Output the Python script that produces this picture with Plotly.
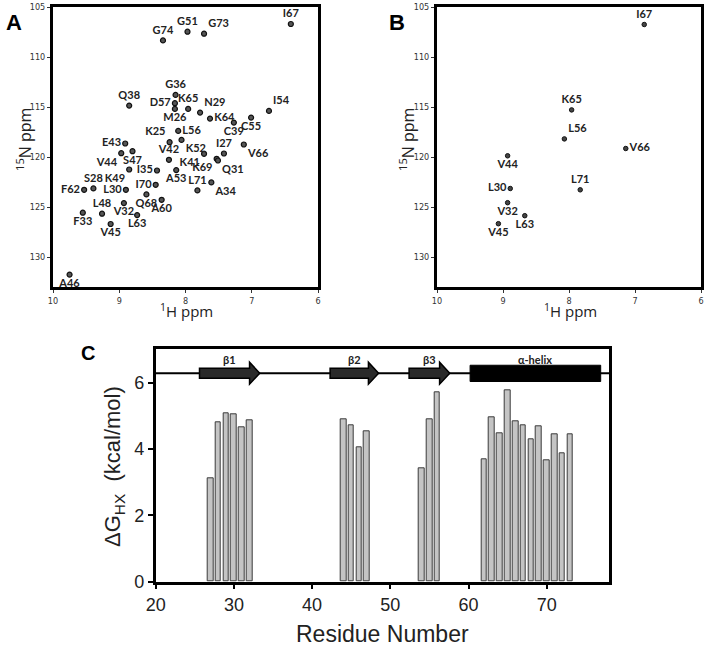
import plotly.graph_objects as go

W, H = 707, 650

# ---------------- Panel A: full HSQC ----------------
a_res = ["G74", "G51", "G73", "I67", "G36", "D57", "M26", "K65", "N29", "K64",
         "C39", "C55", "I54", "Q38", "L56", "K25", "K52", "E43", "S47", "V44",
         "V42", "I27", "V66", "K41", "K69", "Q31", "I35", "A53", "K49", "I70",
         "L71", "A34", "S28", "F62", "L30", "Q68", "L48", "V32", "A60", "F33",
         "L63", "V45", "A46"]
a_h = [8.34, 7.97, 7.72, 6.41, 8.15, 8.16, 8.16, 7.96, 7.78, 7.63,
       7.27, 7.01, 6.74, 8.85, 8.11, 8.24, 8.06, 8.91, 8.80, 8.97,
       8.25, 7.42, 7.12, 7.72, 7.53, 7.51, 8.43, 8.14, 8.85, 8.45,
       7.82, 7.61, 9.39, 9.53, 8.90, 8.59, 9.26, 8.93, 8.36, 9.55,
       8.73, 9.13, 9.75]
a_n = [108.34, 107.47, 107.67, 106.70, 113.79, 114.62, 115.19, 115.19, 115.56, 116.16,
       116.56, 116.06, 115.39, 114.86, 117.39, 118.52, 118.29, 118.65, 119.42, 119.62,
       120.28, 119.65, 118.75, 119.68, 120.18, 120.35, 121.35, 121.31, 121.25, 122.78,
       123.34, 122.54, 123.14, 123.28, 123.28, 123.74, 125.67, 124.61, 124.28, 125.57,
       125.81, 126.70, 131.76]
a_labelpos = ["top center", "top center", "top right", "top center", "top center",
              "middle left", "bottom center", "top center", "top right", "middle right",
              "bottom center", "bottom center", "top right", "top center", "middle right",
              "top left", "bottom right", "middle left", "bottom center", "bottom left",
              "top center", "top center", "bottom right", "bottom left", "bottom left",
              "bottom right", "middle left", "bottom center", "bottom left", "middle left",
              "top center", "bottom right", "top center", "middle left", "middle left",
              "bottom center", "top center", "bottom center", "bottom center", "bottom center",
              "bottom center", "bottom center", "bottom center"]

# ---------------- Panel B: protected peaks ----------------
b_res = ["K65", "L56", "V44", "L30", "V32", "L63", "V45", "L71", "V66", "I67"]
b_h = [7.96, 8.07, 8.93, 8.89, 8.93, 8.67, 9.07, 7.83, 7.14, 6.86]
b_n = [115.29, 118.19, 119.88, 123.15, 124.57, 125.87, 126.67, 123.28, 119.15, 106.75]
b_labelpos = ["top center", "top right", "bottom center", "middle left", "bottom center",
              "bottom center", "bottom center", "top center", "middle right", "top center"]

nmr_h_ticks = [10, 9, 8, 7, 6]
nmr_n_ticks = [105, 110, 115, 120, 125, 130]

# ---------------- Panel C: stability ----------------
c_residue = [27, 28, 29, 30, 31, 32, 44, 45, 46, 47, 54, 55, 56,
             62, 63, 64, 65, 66, 67, 68, 69, 70, 71, 72, 73]
c_dg = [3.10, 4.81, 5.08, 5.05, 4.64, 4.86, 4.90, 4.71, 4.05, 4.54, 3.42, 4.90, 5.71,
        3.69, 4.95, 4.46, 5.77, 4.83, 4.71, 4.30, 4.68, 3.66, 4.44, 3.88, 4.44]
c_x_ticks = [20, 30, 40, 50, 60, 70]
c_y_ticks = [0, 2, 4, 6]

ss_names = ["β1", "β2", "β3", "α-helix"]
ss_start = [25.6, 42.3, 52.4, 60.2]
ss_end = [33.3, 48.5, 57.6, 76.9]
ss_kind = ["strand", "strand", "strand", "helix"]
ss_level = 6.28


def px(x):
    return x / W


def py(y):
    return 1 - y / H


fig = go.Figure()

peak_font = dict(family="Lato, Open Sans, sans-serif", size=11, color="#222", weight="bold")

fig.add_trace(go.Scatter(
    x=a_h, y=a_n, text=a_res, mode="markers+text", textposition=a_labelpos,
    textfont=peak_font,
    marker=dict(size=5, color="#555", line=dict(color="#111", width=1.2), symbol="circle"),
    xaxis="x", yaxis="y", showlegend=False, cliponaxis=False))

fig.add_trace(go.Scatter(
    x=b_h, y=b_n, text=b_res, mode="markers+text", textposition=b_labelpos,
    textfont=peak_font,
    marker=dict(size=4.5, color="#444", line=dict(color="#111", width=1)),
    xaxis="x2", yaxis="y2", showlegend=False, cliponaxis=False))

fig.add_trace(go.Bar(
    x=c_residue, y=c_dg, width=0.72,
    marker=dict(color="#c4c4c4", line=dict(color="#3a3a3a", width=1)),
    xaxis="x3", yaxis="y3", showlegend=False))

nmr_tickfont = dict(family="Liberation Sans Narrow, DejaVu Sans Condensed, sans-serif", size=9, color="#333")
nmr_axis = dict(showline=True, linecolor="black", linewidth=3, mirror=True,
                ticks="outside", ticklen=3, tickcolor="#333", tickwidth=1, automargin=False,
                showgrid=False, zeroline=False, tickfont=nmr_tickfont)
c_axis = dict(showline=True, linecolor="black", linewidth=2.5, mirror=True,
              ticks="outside", ticklen=5, tickcolor="black", tickwidth=1.5, automargin=False,
              showgrid=False, zeroline=False,
              tickfont=dict(family="Liberation Sans, Arial, sans-serif", size=18, color="#222"))

fig.update_layout(
    template="none",
    width=W, height=H, margin=dict(l=0, r=0, t=0, b=0, pad=0), autosize=False,
    paper_bgcolor="white", plot_bgcolor="white",
    bargap=0,
    xaxis=dict(domain=[px(53), px(318)], range=[10, 6], tickvals=nmr_h_ticks,
               anchor="y", **nmr_axis),
    yaxis=dict(domain=[py(287), py(7)], range=[133, 105], tickvals=nmr_n_ticks,
               anchor="x", **nmr_axis),
    xaxis2=dict(domain=[px(437), px(701)], range=[10, 6], tickvals=nmr_h_ticks,
                anchor="y2", **nmr_axis),
    yaxis2=dict(domain=[py(287), py(7)], range=[133, 105], tickvals=nmr_n_ticks,
                anchor="x2", **nmr_axis),
    xaxis3=dict(domain=[px(155.7), px(609.3)], range=[20, 78], tickvals=c_x_ticks,
                anchor="y3", **c_axis),
    yaxis3=dict(domain=[py(581.7), py(349.3)], range=[0, 7], tickvals=c_y_ticks,
                anchor="x3", **c_axis),
)

# secondary-structure track
shapes = [dict(type="line", xref="x3", yref="y3", x0=20, x1=78, y0=ss_level, y1=ss_level,
               line=dict(color="black", width=2), layer="above")]
for name, s, e, kind in zip(ss_names, ss_start, ss_end, ss_kind):
    if kind == "strand":
        hs = e - 1.3
        b, hh = 0.15, 0.33
        path = (f"M {s},{ss_level - b} L {hs},{ss_level - b} L {hs},{ss_level - hh} "
                f"L {e},{ss_level} L {hs},{ss_level + hh} L {hs},{ss_level + b} "
                f"L {s},{ss_level + b} Z")
        shapes.append(dict(type="path", xref="x3", yref="y3", path=path,
                           fillcolor="#2a2a2a", line=dict(color="black", width=1.5), layer="above"))
    else:
        shapes.append(dict(type="rect", xref="x3", yref="y3", x0=s, x1=e,
                           y0=ss_level - 0.25, y1=ss_level + 0.24,
                           fillcolor="black", line=dict(color="black", width=1), layer="above"))
fig.update_layout(shapes=shapes)

annotations = []
for name, s, e in zip(ss_names, ss_start, ss_end):
    annotations.append(dict(xref="x3", yref="y3", x=(s + e) / 2, y=ss_level + 0.40,
                            text=name, showarrow=False, xanchor="center", yanchor="middle",
                            font=dict(family="Lato, Open Sans, sans-serif", size=11,
                                      color="#222", weight="bold")))


def note(x, y, text, font, angle=0):
    return dict(xref="paper", yref="paper", x=px(x), y=py(y), text=text, showarrow=False,
                xanchor="center", yanchor="middle", textangle=angle, font=font)


title_font = dict(family="Open Sans, Liberation Sans, sans-serif", size=15, color="#222")
letter_font = dict(family="Liberation Sans, Arial", size=22, color="black")
annotations += [
    note(14, 22, "<b>A</b>", letter_font),
    note(397, 22, "<b>B</b>", letter_font),
    note(88, 353, "<b>C</b>", dict(family="Liberation Sans, Arial", size=20, color="black")),
    note(24, 140, "<sup>15</sup>N ppm", dict(title_font, size=16), -90),
    note(407, 140, "<sup>15</sup>N ppm", dict(title_font, size=16), -90),
    note(187, 310, "<sup>1</sup>H ppm", title_font),
    note(570, 310, "<sup>1</sup>H ppm", title_font),
    note(114, 466, "ΔG<sub>HX</sub>  (kcal/mol)",
         dict(family="Liberation Sans, Arial", size=22, color="#222"), -90),
    note(382, 634, "Residue Number", dict(family="Liberation Sans, Arial", size=23, color="#222")),
]
fig.update_layout(annotations=annotations)

fig.write_html("out.html", config={"displayModeBar": False},
               post_script="document.body.style.margin='0px';")
